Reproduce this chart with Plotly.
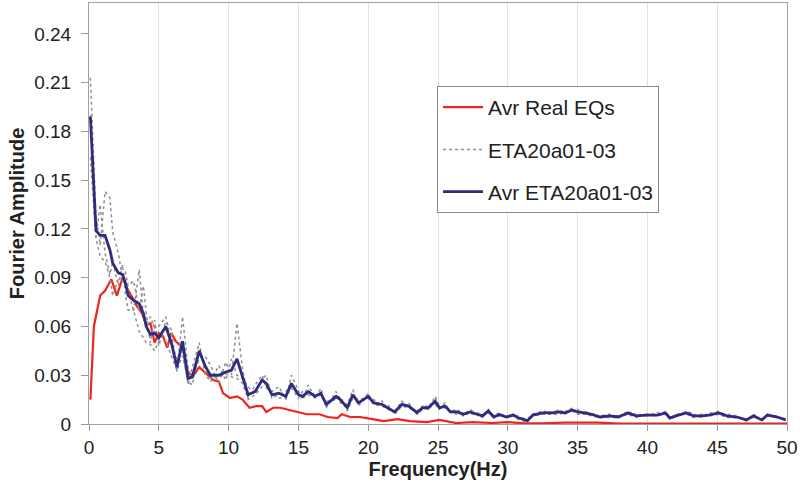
import plotly.graph_objects as go

# ---- data ----
freq_avr = [
    0.1, 0.5, 0.8, 1.15, 1.5, 1.7, 2.1, 2.4, 2.6, 2.8,
    3.2, 3.6, 3.9, 4.1, 4.4, 4.7, 5.0, 5.5, 5.9, 6.3,
    6.7, 7.1, 7.4, 7.9, 8.3, 8.7, 9.3, 9.8, 10.2, 10.6,
    11.0, 11.4, 11.9, 12.4, 12.7, 13.1, 13.6, 14.1, 14.5, 15.0,
    15.3, 15.7, 16.2, 16.6, 17.0, 17.7, 18.0, 18.5, 18.9, 19.3,
    20.0, 20.4, 21.0, 21.4, 21.9, 22.4, 22.9, 23.5, 23.9, 24.3,
    24.8, 25.1, 25.5, 25.9, 26.4, 26.8, 27.3, 27.8, 28.2, 28.6,
    29.0, 29.4, 29.9, 30.4, 30.7, 31.4, 31.8, 32.5, 33.2, 33.7,
    34.1, 34.6, 35.0, 35.5, 36.0, 36.6, 37.3, 37.9, 38.6, 39.2,
    39.9, 40.7, 41.3, 41.6, 42.2, 42.8, 43.3, 43.9, 44.4, 45.1,
    45.7, 46.4, 47.1, 47.6, 48.2, 48.6, 49.3, 49.9,
]
avr_eta = [
    0.189, 0.119, 0.116, 0.116, 0.107, 0.099, 0.093, 0.092, 0.087, 0.079,
    0.076, 0.074, 0.068, 0.060, 0.055, 0.056, 0.053, 0.060, 0.050, 0.035,
    0.051, 0.028, 0.029, 0.045, 0.036, 0.030, 0.030, 0.032, 0.033, 0.040,
    0.029, 0.018, 0.020, 0.027, 0.025, 0.018, 0.019, 0.017, 0.025, 0.018,
    0.017, 0.020, 0.017, 0.019, 0.012, 0.017, 0.015, 0.010, 0.018, 0.013,
    0.017, 0.013, 0.012, 0.010, 0.0074, 0.012, 0.011, 0.007, 0.010, 0.010,
    0.014, 0.010, 0.011, 0.0074, 0.0074, 0.006, 0.0074, 0.006, 0.005, 0.008,
    0.0043, 0.0058, 0.0043, 0.0055, 0.0040, 0.002, 0.0055, 0.0068, 0.0068, 0.0074,
    0.0068, 0.0086, 0.0074, 0.0068, 0.006, 0.0043, 0.005, 0.0043, 0.0068, 0.005,
    0.0055, 0.0055, 0.0068, 0.0037, 0.0055, 0.0068, 0.005, 0.005, 0.0055, 0.0068,
    0.005, 0.0043, 0.0025, 0.005, 0.0025, 0.0055, 0.0043, 0.0025,
]
eta_01 = [
    0.213, 0.128, 0.110, 0.143, 0.139, 0.118, 0.105, 0.090, 0.094, 0.085,
    0.088, 0.070, 0.085, 0.068, 0.050, 0.064, 0.048, 0.063, 0.058, 0.032,
    0.066, 0.034, 0.028, 0.040, 0.042, 0.036, 0.025, 0.038, 0.030, 0.062,
    0.034, 0.016, 0.024, 0.030, 0.022, 0.020, 0.023, 0.015, 0.030, 0.020,
    0.015, 0.024, 0.016, 0.022, 0.010, 0.020, 0.013, 0.012, 0.021, 0.011,
    0.019, 0.012, 0.014, 0.009, 0.008, 0.014, 0.010, 0.008, 0.011, 0.009,
    0.017, 0.011, 0.010, 0.008, 0.009, 0.005, 0.009, 0.006, 0.004, 0.009,
    0.005, 0.007, 0.004, 0.006, 0.004, 0.003, 0.006, 0.008, 0.007, 0.009,
    0.006, 0.010, 0.007, 0.008, 0.006, 0.005, 0.006, 0.004, 0.008, 0.005,
    0.006, 0.005, 0.008, 0.004, 0.006, 0.007, 0.005, 0.006, 0.005, 0.008,
    0.005, 0.004, 0.003, 0.005, 0.003, 0.006, 0.004, 0.003,
]
eta_02 = [
    0.190, 0.115, 0.135, 0.105, 0.092, 0.100, 0.085, 0.098, 0.080, 0.070,
    0.070, 0.095, 0.066, 0.062, 0.066, 0.059, 0.060, 0.066, 0.050, 0.040,
    0.045, 0.024, 0.035, 0.050, 0.031, 0.026, 0.036, 0.027, 0.040, 0.030,
    0.028, 0.023, 0.018, 0.028, 0.030, 0.016, 0.018, 0.020, 0.022, 0.016,
    0.020, 0.018, 0.019, 0.017, 0.014, 0.015, 0.017, 0.008, 0.016, 0.015,
    0.016, 0.015, 0.011, 0.012, 0.006, 0.011, 0.013, 0.006, 0.009, 0.012,
    0.012, 0.009, 0.013, 0.007, 0.006, 0.007, 0.007, 0.005, 0.006, 0.008,
    0.004, 0.005, 0.005, 0.005, 0.005, 0.002, 0.005, 0.006, 0.008, 0.007,
    0.008, 0.008, 0.009, 0.006, 0.007, 0.004, 0.005, 0.005, 0.006, 0.006,
    0.005, 0.007, 0.006, 0.003, 0.005, 0.008, 0.006, 0.004, 0.007, 0.006,
    0.006, 0.005, 0.002, 0.006, 0.002, 0.005, 0.005, 0.002,
]
eta_03 = [
    0.164, 0.114, 0.103, 0.100, 0.090, 0.079, 0.089, 0.088, 0.087, 0.082,
    0.070, 0.057, 0.053, 0.050, 0.049, 0.045, 0.051, 0.051, 0.042, 0.033,
    0.042, 0.026, 0.024, 0.045, 0.035, 0.028, 0.029, 0.031, 0.029, 0.028,
    0.025, 0.015, 0.018, 0.023, 0.023, 0.018, 0.016, 0.016, 0.023, 0.018,
    0.016, 0.018, 0.016, 0.018, 0.012, 0.016, 0.015, 0.010, 0.017, 0.013,
    0.016, 0.012, 0.011, 0.009, 0.008, 0.011, 0.010, 0.007, 0.010, 0.009,
    0.013, 0.010, 0.010, 0.007, 0.007, 0.006, 0.006, 0.007, 0.005, 0.007,
    0.004, 0.006, 0.004, 0.006, 0.003, 0.001, 0.006, 0.006, 0.006, 0.006,
    0.007, 0.008, 0.006, 0.006, 0.005, 0.004, 0.004, 0.004, 0.006, 0.004,
    0.006, 0.005, 0.006, 0.004, 0.006, 0.006, 0.004, 0.005, 0.005, 0.006,
    0.004, 0.004, 0.003, 0.004, 0.003, 0.006, 0.004, 0.003,
]
freq_real = [
    0.1, 0.35, 0.8, 1.15, 1.6, 2.0, 2.4, 2.7, 3.1, 3.4,
    3.8, 4.1, 4.4, 4.7, 5.0, 5.3, 5.6, 5.9, 6.2, 6.7,
    7.1, 7.5, 7.9, 8.4, 8.9, 9.3, 9.6, 10.1, 10.6, 11.0,
    11.5, 12.0, 12.4, 12.7, 13.2, 13.7, 14.4, 14.9, 15.6, 16.5,
    17.1, 17.8, 18.1, 18.7, 19.4, 20.3, 21.1, 22.1, 23.0, 24.2,
    25.1, 26.3, 27.5, 28.9, 29.9, 31.0, 32.5, 34.0, 35.2, 36.5,
    38.0, 40.0, 42.0, 44.0, 46.0, 48.0, 50.0,
]
avr_real = [
    0.015, 0.060, 0.079, 0.082, 0.089, 0.079, 0.090, 0.084, 0.078, 0.073,
    0.068, 0.061, 0.062, 0.050, 0.056, 0.054, 0.047, 0.056, 0.051, 0.047,
    0.031, 0.030, 0.035, 0.031, 0.027, 0.026, 0.019, 0.016, 0.017, 0.015,
    0.010, 0.011, 0.011, 0.0074, 0.010, 0.010, 0.0086, 0.0074, 0.006, 0.006,
    0.0043, 0.0037, 0.006, 0.0043, 0.0043, 0.003, 0.0018, 0.003, 0.0018, 0.0012,
    0.0025, 0.0006, 0.0012, 0.0006, 0.0012, 0.0005, 0.0004, 0.0008, 0.0010, 0.0008,
    0.0003, 0.0004, 0.0003, 0.0003, 0.0002, 0.0002, 0.0002,
]
x_ticks = [0, 5, 10, 15, 20, 25, 30, 35, 40, 45, 50]
y_ticks = [0, 0.03, 0.06, 0.09, 0.12, 0.15, 0.18, 0.21, 0.24]
y_tick_text = ["0", "0.03", "0.06", "0.09", "0.12", "0.15", "0.18", "0.21", "0.24"]

FONT = "Liberation Sans, Arial, sans-serif"
GRAY = "#8f8f8f"

fig = go.Figure()
fig.add_trace(go.Scatter(x=freq_real, y=avr_real, mode="lines", name="Avr Real EQs",
                         line=dict(color="#f2231b", width=2.2), legendgroup="a"))
for i, s in enumerate([eta_01, eta_02, eta_03]):
    fig.add_trace(go.Scatter(x=freq_avr, y=s, mode="lines", name="ETA20a01-03",
                             line=dict(color=GRAY, width=1.5, dash="dot"),
                             legendgroup="b", showlegend=(i == 0)))
fig.add_trace(go.Scatter(x=freq_avr, y=avr_eta, mode="lines", name="Avr ETA20a01-03",
                         line=dict(color="#2e2c7e", width=2.8), legendgroup="c"))

fig.update_layout(
    width=800, height=496,
    margin=dict(l=89, r=13, t=3, b=72),
    paper_bgcolor="white", plot_bgcolor="white",
    font=dict(family=FONT, color="#222222", size=16),
    showlegend=True,
    legend=dict(x=0.4986, y=0.803, xanchor="left", yanchor="top",
                bgcolor="white", bordercolor="#8a8a8a", borderwidth=1,
                font=dict(size=21, color="#222222"),
                traceorder="grouped", tracegroupgap=12, itemwidth=40),
)
fig.update_xaxes(range=[0, 50], tickvals=x_ticks, ticks="outside", ticklen=6,
                 tickcolor="#999999", showline=True, linecolor="#a0a0a0", linewidth=1,
                 mirror=True, showgrid=True, gridcolor="#e2e2e2", gridwidth=1,
                 zeroline=False, tickfont=dict(size=19),
                 title=dict(text="<b>Frequency(Hz)</b>", font=dict(size=20), standoff=2))
fig.update_yaxes(range=[0, 0.259], tickvals=y_ticks, ticktext=y_tick_text, ticks="outside",
                 ticklen=7, tickcolor="#999999", showline=True, linecolor="#a0a0a0",
                 linewidth=1, mirror=True, showgrid=False, zeroline=False,
                 tickfont=dict(size=19), ticklabelstandoff=6,
                 title=dict(text="<b>Fourier Amplitude</b>", font=dict(size=20), standoff=4))

fig.write_html("out.html")
